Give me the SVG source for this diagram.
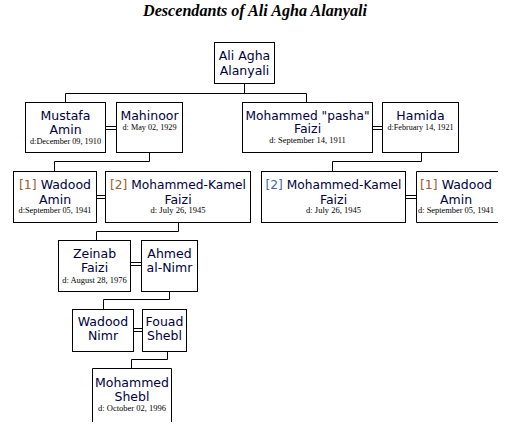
<svg xmlns="http://www.w3.org/2000/svg" width="508" height="433" viewBox="0 0 508 433">
<style>
.bx{fill:#fff;stroke:#000;stroke-width:1}
.ln{fill:none;stroke:#000;stroke-width:1}
.nm{font-family:"DejaVu Sans",Verdana,sans-serif;font-size:12.5px;fill:#000040;text-anchor:middle}
.dt{font-family:"Liberation Serif","Times New Roman",serif;font-size:8.5px;fill:#000;text-anchor:middle}
.t{font-family:"Liberation Serif","Times New Roman",serif;font-size:16px;font-weight:bold;font-style:italic;fill:#000;text-anchor:middle}
.r1{fill:#9a6030}
.r2{fill:#3a6aa8}
</style>
<rect x="0" y="0" width="508" height="433" fill="#fff"/>
<text class="t" x="255" y="16" textLength="224" lengthAdjust="spacingAndGlyphs">Descendants of Ali Agha Alanyali</text>

<g id="connectors">
<path class="ln" d="M244.5 83V93.5M65.5 102V93.5H306.5V102"/>
<path class="ln" d="M105 126.5H116M105 129.5H116"/>
<path class="ln" d="M372 126.5H382M372 129.5H382"/>
<path class="ln" d="M149.5 152V161.5H54.5V171"/>
<path class="ln" d="M421.5 152V161.5H332.5V171"/>
<path class="ln" d="M96 195.5H105M96 198.5H105"/>
<path class="ln" d="M405 195.5H416M405 198.5H416"/>
<path class="ln" d="M178.5 222V231.5H96.5V240"/>
<path class="ln" d="M130 262.5H141M130 265.5H141"/>
<path class="ln" d="M169.5 291V299.5H103.5V309"/>
<path class="ln" d="M133 328.5H142M133 331.5H142"/>
<path class="ln" d="M167.5 351V359.5H131.5V368"/>
</g>

<g id="ali">
<rect class="bx" x="214.5" y="42.5" width="60" height="41"/>
<text class="nm" x="244.5" y="60">Ali Agha</text>
<text class="nm" x="244.5" y="75">Alanyali</text>
</g>

<g id="mustafa">
<rect class="bx" x="25.5" y="102.5" width="80" height="50"/>
<text class="nm" x="65.5" y="120">Mustafa</text>
<text class="nm" x="65.5" y="134">Amin</text>
<text class="dt" x="65.5" y="144" textLength="71" lengthAdjust="spacingAndGlyphs">d:December 09, 1910</text>
</g>

<g id="mahinoor">
<rect class="bx" x="116.5" y="102.5" width="66" height="50"/>
<text class="nm" x="149.5" y="120">Mahinoor</text>
<text class="dt" x="149.5" y="130" textLength="54" lengthAdjust="spacingAndGlyphs">d: May 02, 1929</text>
</g>

<g id="mohammed-pasha">
<rect class="bx" x="242.5" y="102.5" width="130" height="50"/>
<text class="nm" x="307.5" y="120" textLength="124" lengthAdjust="spacingAndGlyphs">Mohammed "pasha"</text>
<text class="nm" x="307.5" y="133">Faizi</text>
<text class="dt" x="307.5" y="143">d: September 14, 1911</text>
</g>

<g id="hamida">
<rect class="bx" x="382.5" y="102.5" width="76" height="50"/>
<text class="nm" x="420.5" y="120">Hamida</text>
<text class="dt" x="420.5" y="130" textLength="66" lengthAdjust="spacingAndGlyphs">d:February 14, 1921</text>
</g>

<g id="wadood-amin-left">
<rect class="bx" x="13.5" y="171.5" width="83" height="51"/>
<text class="nm" x="55" y="189" textLength="72" lengthAdjust="spacingAndGlyphs"><tspan class="r1">[1]</tspan> Wadood</text>
<text class="nm" x="55" y="204">Amin</text>
<text class="dt" x="55" y="213" textLength="73" lengthAdjust="spacingAndGlyphs">d:September 05, 1941</text>
</g>

<g id="mohammed-kamel-left">
<rect class="bx" x="105.5" y="171.5" width="145" height="51"/>
<text class="nm" x="178" y="189" textLength="136" lengthAdjust="spacingAndGlyphs"><tspan class="r1">[2]</tspan> Mohammed-Kamel</text>
<text class="nm" x="178" y="204">Faizi</text>
<text class="dt" x="178" y="213">d: July 26, 1945</text>
</g>

<g id="mohammed-kamel-right">
<rect class="bx" x="261.5" y="171.5" width="144" height="51"/>
<text class="nm" x="333.5" y="189" textLength="136" lengthAdjust="spacingAndGlyphs"><tspan class="r2">[2]</tspan> Mohammed-Kamel</text>
<text class="nm" x="333.5" y="204">Faizi</text>
<text class="dt" x="333.5" y="213">d: July 26, 1945</text>
</g>

<g id="wadood-amin-right">
<path class="bx" d="M498 171.5H416.5V222.5H498"/>
<text class="nm" x="456" y="189" textLength="72" lengthAdjust="spacingAndGlyphs"><tspan class="r1">[1]</tspan> Wadood</text>
<text class="nm" x="456" y="204">Amin</text>
<text class="dt" x="456" y="213" textLength="76" lengthAdjust="spacingAndGlyphs">d: September 05, 1941</text>
</g>

<g id="zeinab">
<rect class="bx" x="58.5" y="240.5" width="72" height="51"/>
<text class="nm" x="94.5" y="258">Zeinab</text>
<text class="nm" x="94.5" y="272">Faizi</text>
<text class="dt" x="94.5" y="283">d: August 28, 1976</text>
</g>

<g id="ahmed">
<rect class="bx" x="141.5" y="240.5" width="56" height="51"/>
<text class="nm" x="169.5" y="258">Ahmed</text>
<text class="nm" x="169.5" y="272">al-Nimr</text>
</g>

<g id="wadood-nimr">
<rect class="bx" x="72.5" y="309.5" width="61" height="42"/>
<text class="nm" x="103" y="326">Wadood</text>
<text class="nm" x="103" y="340">Nimr</text>
</g>

<g id="fouad">
<rect class="bx" x="142.5" y="309.5" width="44" height="42"/>
<text class="nm" x="164.5" y="326">Fouad</text>
<text class="nm" x="164.5" y="340">Shebl</text>
</g>

<g id="mohammed-shebl">
<path class="bx" d="M92.5 422V368.5H171.5V422"/>
<text class="nm" x="132" y="387">Mohammed</text>
<text class="nm" x="132" y="401">Shebl</text>
<text class="dt" x="132" y="411">d: October 02, 1996</text>
</g>
</svg>
